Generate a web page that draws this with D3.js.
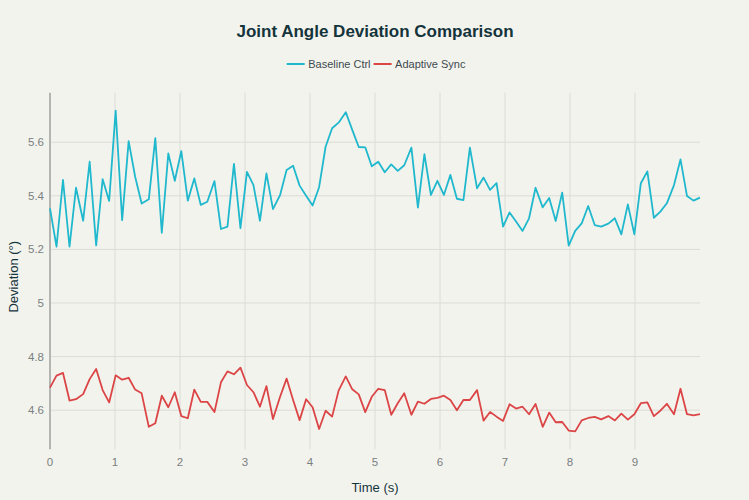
<!DOCTYPE html>
<html>
<head>
<meta charset="utf-8">
<script src="https://cdn.jsdelivr.net/npm/d3@7"></script>
<style>
	html, body { margin: 0; padding: 0; background: #f3f3ee; }
	svg { display: block; font-family: "Liberation Sans", Arial, sans-serif; }
</style>
</head>
<body>
<div id="chart"></div>
<script>

// time stamps (s), 100 samples over 0..10
const times = [
	0.00, 0.10, 0.20, 0.30, 0.40, 0.51, 0.61, 0.71, 0.81, 0.91,
	1.01, 1.11, 1.21, 1.31, 1.41, 1.52, 1.62, 1.72, 1.82, 1.92,
	2.02, 2.12, 2.22, 2.32, 2.42, 2.53, 2.63, 2.73, 2.83, 2.93,
	3.03, 3.13, 3.23, 3.33, 3.43, 3.54, 3.64, 3.74, 3.84, 3.94,
	4.04, 4.14, 4.24, 4.34, 4.44, 4.55, 4.65, 4.75, 4.85, 4.95,
	5.05, 5.15, 5.25, 5.35, 5.45, 5.56, 5.66, 5.76, 5.86, 5.96,
	6.06, 6.16, 6.26, 6.36, 6.46, 6.57, 6.67, 6.77, 6.87, 6.97,
	7.07, 7.17, 7.27, 7.37, 7.47, 7.58, 7.68, 7.78, 7.88, 7.98,
	8.08, 8.18, 8.28, 8.38, 8.48, 8.59, 8.69, 8.79, 8.89, 8.99,
	9.09, 9.19, 9.29, 9.39, 9.49, 9.60, 9.70, 9.80, 9.90, 10.00
];

const baseline = [
	5.353, 5.210, 5.459, 5.210, 5.430, 5.307, 5.527, 5.215, 5.462, 5.381,
	5.718, 5.309, 5.604, 5.471, 5.371, 5.387, 5.615, 5.262, 5.558, 5.456,
	5.567, 5.382, 5.465, 5.366, 5.378, 5.455, 5.276, 5.285, 5.519, 5.279,
	5.489, 5.440, 5.307, 5.484, 5.350, 5.403, 5.496, 5.512, 5.438, 5.400,
	5.364, 5.432, 5.583, 5.652, 5.673, 5.712, 5.646, 5.582, 5.581, 5.510,
	5.527, 5.488, 5.517, 5.493, 5.514, 5.580, 5.356, 5.555, 5.403, 5.456,
	5.403, 5.478, 5.389, 5.384, 5.580, 5.428, 5.468, 5.422, 5.447, 5.285,
	5.338, 5.304, 5.269, 5.316, 5.430, 5.357, 5.392, 5.306, 5.412, 5.214,
	5.269, 5.297, 5.362, 5.291, 5.285, 5.296, 5.316, 5.256, 5.368, 5.256,
	5.447, 5.491, 5.318, 5.341, 5.372, 5.440, 5.536, 5.399, 5.382, 5.393
];

const adaptive = [
	4.684, 4.729, 4.739, 4.636, 4.641, 4.660, 4.716, 4.754, 4.675, 4.629,
	4.730, 4.714, 4.721, 4.677, 4.663, 4.538, 4.551, 4.654, 4.611, 4.667,
	4.578, 4.570, 4.677, 4.631, 4.631, 4.593, 4.704, 4.745, 4.734, 4.759,
	4.694, 4.667, 4.613, 4.690, 4.567, 4.650, 4.718, 4.638, 4.563, 4.641,
	4.611, 4.530, 4.598, 4.576, 4.673, 4.726, 4.678, 4.659, 4.593, 4.650,
	4.680, 4.675, 4.583, 4.626, 4.663, 4.583, 4.632, 4.624, 4.642, 4.646,
	4.654, 4.638, 4.600, 4.638, 4.638, 4.675, 4.561, 4.593, 4.576, 4.560,
	4.622, 4.606, 4.613, 4.585, 4.623, 4.538, 4.591, 4.555, 4.556, 4.524,
	4.521, 4.562, 4.571, 4.575, 4.566, 4.578, 4.562, 4.587, 4.565, 4.585,
	4.626, 4.629, 4.578, 4.598, 4.624, 4.585, 4.680, 4.585, 4.581, 4.585
];

const series_names  = [ "Baseline Ctrl", "Adaptive Sync" ];
const series_colors = [ "#1fb8cd", "#db4545" ];
const x_ticks = [ 0, 1, 2, 3, 4, 5, 6, 7, 8, 9 ];
const y_ticks = [ 4.6, 4.8, 5, 5.2, 5.4, 5.6 ];

///////////////////////////////////////////////////////////////////////

const width = 749, height = 500;
const margin = { top: 92.7, right: 49, bottom: 50.7, left: 50 };

const svg = d3.select( "#chart" )
	.append( "svg" )
		.attr( "width", width )
		.attr( "height", height );

svg.append( "rect" )
	.attr( "width", width )
	.attr( "height", height )
	.attr( "fill", "#f3f3ee" );

const x = d3.scaleLinear()
	.domain( [ 0, 10 ] )
	.range( [ margin.left, width - margin.right ] );

const y = d3.scaleLinear()
	.domain( [ 4.4541, 5.7847 ] )
	.range( [ height - margin.bottom, margin.top ] );

// grid
svg.append( "g" )
	.selectAll( "line" )
	.data( y_ticks )
	.join( "line" )
		.attr( "x1", x.range()[ 0 ] )
		.attr( "x2", x.range()[ 1 ] )
		.attr( "y1", d => y( d ) )
		.attr( "y2", d => y( d ) )
		.attr( "stroke", "#dcdcd6" )
		.attr( "stroke-width", 1 );

svg.append( "g" )
	.selectAll( "line" )
	.data( x_ticks.slice( 1 ) )
	.join( "line" )
		.attr( "x1", d => x( d ) )
		.attr( "x2", d => x( d ) )
		.attr( "y1", y.range()[ 0 ] )
		.attr( "y2", y.range()[ 1 ] )
		.attr( "stroke", "#dcdcd6" )
		.attr( "stroke-width", 1 );

// y axis line
svg.append( "line" )
	.attr( "x1", x( 0 ) )
	.attr( "x2", x( 0 ) )
	.attr( "y1", y.range()[ 0 ] )
	.attr( "y2", y.range()[ 1 ] )
	.attr( "stroke", "#b4b4b0" )
	.attr( "stroke-width", 2 );

// tick labels
svg.append( "g" )
	.selectAll( "text" )
	.data( y_ticks )
	.join( "text" )
		.attr( "x", x( 0 ) - 6 )
		.attr( "y", d => y( d ) )
		.attr( "dy", "0.35em" )
		.attr( "text-anchor", "end" )
		.attr( "font-size", 11.5 )
		.attr( "fill", "#7a7f80" )
		.text( d => d3.format( "~g" )( d ) );

svg.append( "g" )
	.selectAll( "text" )
	.data( x_ticks )
	.join( "text" )
		.attr( "x", d => x( d ) )
		.attr( "y", 461.7 )
		.attr( "dy", "0.35em" )
		.attr( "text-anchor", "middle" )
		.attr( "font-size", 11.5 )
		.attr( "fill", "#7a7f80" )
		.text( d => d );

// axis titles
svg.append( "text" )
	.attr( "x", 375 )
	.attr( "y", 487.7 )
	.attr( "dy", "0.35em" )
	.attr( "text-anchor", "middle" )
	.attr( "font-size", 13 )
	.attr( "fill", "#13343b" )
	.text( "Time (s)" );

svg.append( "text" )
	.attr( "transform", "translate(13.5,276.7) rotate(-90)" )
	.attr( "dy", "0.35em" )
	.attr( "text-anchor", "middle" )
	.attr( "font-size", 13 )
	.attr( "fill", "#13343b" )
	.text( "Deviation (°)" );

// title
svg.append( "text" )
	.attr( "x", 375 )
	.attr( "y", 31 )
	.attr( "dy", "0.35em" )
	.attr( "text-anchor", "middle" )
	.attr( "font-size", 17 )
	.attr( "font-weight", "bold" )
	.attr( "fill", "#13343b" )
	.text( "Joint Angle Deviation Comparison" );

// lines
const line = d3.line()
	.x( ( d, i ) => x( times[ i ] ) )
	.y( d => y( d ) );

[ baseline, adaptive ].forEach( ( vals, k ) => {
	svg.append( "path" )
		.datum( vals )
		.attr( "fill", "none" )
		.attr( "stroke", series_colors[ k ] )
		.attr( "stroke-width", 1.8 )
		.attr( "stroke-linejoin", "round" )
		.attr( "d", line );
} );

// legend
const legend_x = [ 286.7, 373.6 ];
const leg = svg.append( "g" )
	.selectAll( "g" )
	.data( series_names )
	.join( "g" )
		.attr( "transform", ( d, i ) => `translate(${ legend_x[ i ] },64)` );

leg.append( "line" )
	.attr( "x1", 0 )
	.attr( "x2", 18 )
	.attr( "stroke", ( d, i ) => series_colors[ i ] )
	.attr( "stroke-width", 2 );

leg.append( "text" )
	.attr( "x", 21.5 )
	.attr( "dy", "0.35em" )
	.attr( "font-size", 11 )
	.attr( "fill", "#3d4a4f" )
	.text( d => d );

</script>
</body>
</html>
